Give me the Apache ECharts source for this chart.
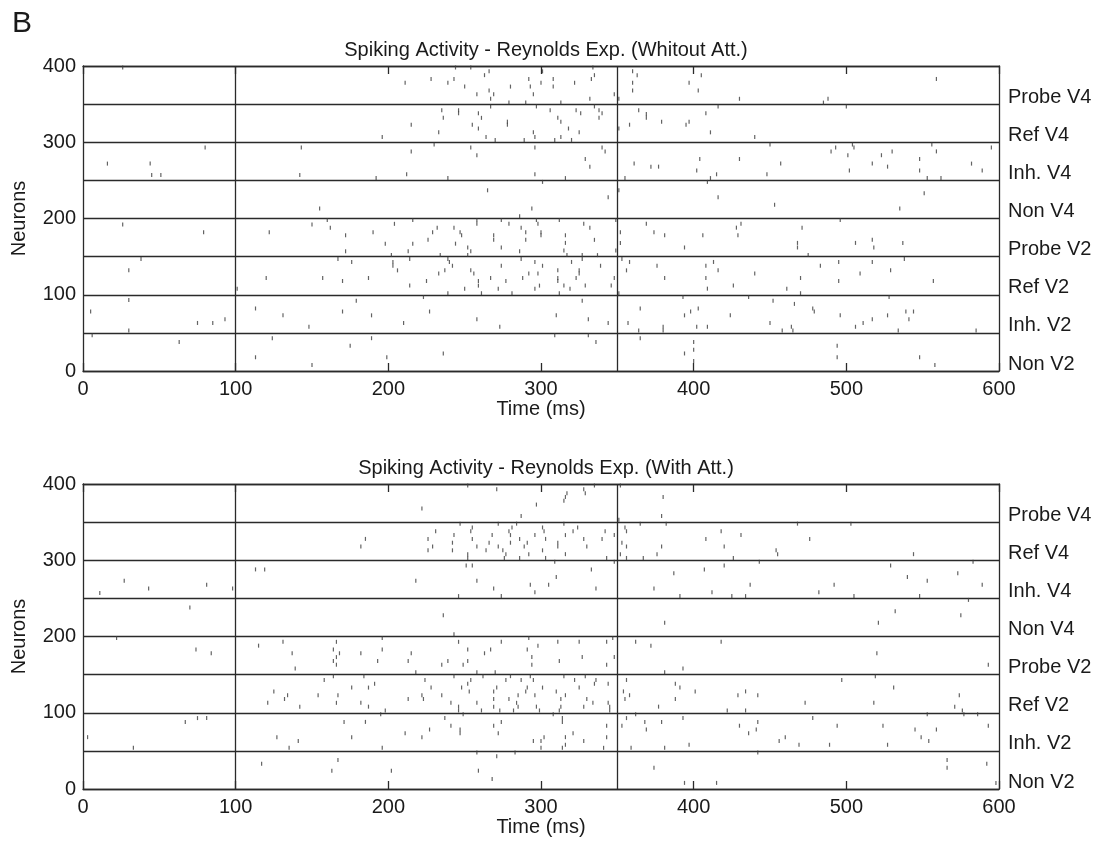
<!DOCTYPE html>
<html>
<head>
<meta charset="utf-8">
<script src="https://cdn.jsdelivr.net/npm/echarts@6/dist/echarts.min.js"></script>
<style>
  html, body { margin: 0; padding: 0; background: #fff; }
  #chart { width: 1101px; height: 843px; }
</style>
</head>
<body>
<div id="chart"></div>
<script>
// population labels, bottom to top (50 neurons each)
const populations = ['Non V2', 'Inh. V2', 'Ref V2', 'Probe V2', 'Non V4', 'Inh. V4', 'Ref V4', 'Probe V4']
// stimulus onset / attention marker (ms)
const stimLines = [100, 350]
const panelTitles = [
  'Spiking Activity - Reynolds Exp. (Whitout Att.)',
  'Spiking Activity - Reynolds Exp. (With Att.)'
]

// [time (ms), neuron index]
const spikesNoAtt = [
  [26,398],[80,293],[143,293],[16,272],[44,272],[45,257],[51,257],[142,257],[26,192],[79,182],[122,182],[150,192],[38,147],[30,132],[120,122],[101,108],[30,93],[5,78],[113,82],[131,73],[75,63],[85,63],[93,68],[148,58],[30,53],[6,47],[63,38],[124,43],[113,18],[150,8],
  [244,398],[254,398],[266,393],[263,388],[301,393],[211,378],[228,383],[239,378],[243,383],[250,373],[292,383],[280,373],[293,373],[300,378],[258,363],[266,368],[269,363],[267,357],[295,363],[279,352],[290,352],
  [267,347],[297,347],[235,342],[246,342],[246,338],[259,338],[236,332],[261,332],[278,327],[278,323],[215,323],[255,323],[259,318],[233,313],[295,313],[196,307],[264,307],[296,307],[270,303],[289,303],
  [230,297],[215,288],[254,293],[258,283],[296,293],[212,258],[192,253],[239,253],[296,258],
  [301,248],[265,237],[155,213],[294,213],[286,203],
  [160,198],[162,188],[204,193],[216,198],[172,178],[190,182],[232,188],[229,182],[226,172],[243,188],[247,182],[248,178],[258,198],[258,193],[269,178],[269,172],[274,198],[279,193],[287,188],[290,182],[297,198],[298,193],[300,182],[300,178],[290,172],[198,167],[216,167],[244,167],[252,162],[254,157],[274,162],[172,157],[213,157],[286,157],[202,152],[234,152],[252,152],
  [167,147],[214,147],[239,147],[287,147],[176,143],[203,143],[203,138],[240,143],[242,138],[296,143],[301,138],[274,138],[206,132],[237,132],[254,132],[233,128],[256,128],[292,128],[298,128],[157,122],[187,122],[267,122],[288,122],[170,118],[225,118],[259,118],[259,112],[277,118],[214,112],[299,112],[250,108],[272,108],[296,108],[239,102],[261,102],[281,102],
  [223,97],[179,92],[170,78],[189,73],[227,78],[210,63],[258,68],[273,58],
  [189,43],[175,33],[236,23],[199,18],
  [334,398],[335,388],[333,383],[308,383],[308,373],[322,378],[332,357],[348,363],[351,357],[360,393],[363,388],[360,378],[360,368],[405,388],[397,378],[403,368],[430,357],[313,352],
  [306,342],[323,342],[326,338],[335,347],[338,342],[340,338],[338,332],[311,332],[313,327],[318,318],[325,313],[313,307],[309,303],[320,303],[351,318],[364,342],[369,337],[369,332],[358,323],[379,327],[397,327],[395,323],[408,338],[416,347],[411,313],[440,307],
  [340,293],[342,288],[329,278],[332,268],[316,253],[361,272],[372,268],[377,268],[404,278],[430,278],[402,263],[415,258],[411,253],[409,248],[448,258],[450,297],[355,253],
  [351,237],[344,228],[416,228],[453,218],
  [312,198],[328,193],[332,188],[316,178],[316,168],[335,172],[315,158],[317,152],[327,152],[337,152],[349,158],[349,198],[352,182],[352,168],[369,193],[374,182],[381,178],[394,162],[406,178],[431,193],[428,188],[429,178],
  [311,132],[320,143],[327,147],[325,132],[325,128],[339,138],[311,122],[311,118],[323,122],[315,112],[319,108],[329,112],[312,102],[346,112],[348,122],[351,102],[353,147],[358,143],[356,132],[376,138],[381,122],[408,138],[413,143],[416,132],[408,122],[409,108],[426,112],[440,128],
  [327,92],[310,73],[331,68],[344,63],[357,63],[364,53],[380,58],[380,53],[365,82],[393,97],[398,78],[394,73],[403,82],[402,58],[409,58],[424,73],[436,97],[450,63],[452,92],
  [309,47],[331,47],[336,38],[365,43],[400,38],[400,28],[394,23],[400,13],
  [559,383],[485,352],[488,357],[500,347],
  [490,288],[493,293],[504,297],[505,293],[501,283],[457,272],[502,263],[517,272],[523,283],[530,288],[527,268],[556,297],[559,288],[548,278],[548,263],[553,253],[562,253],[582,272],[589,263],[595,293],
  [551,233],[535,213],
  [496,198],[471,188],[468,168],[468,162],[475,152],[506,168],[517,172],[518,162],[537,168],
  [538,147],[483,138],[495,143],[517,143],[529,132],[509,128],[470,122],[495,118],[557,118],[461,108],[470,102],
  [528,97],[466,88],[478,82],[479,78],[496,73],[527,73],[539,78],[544,78],[541,68],[517,68],[511,63],[506,58],[464,58],[465,53],[458,53],[534,53],[585,53],
  [494,33],[494,18],[548,18],[558,8]
]

const spikesAtt = [
  [113,288],[119,288],[27,273],[11,257],[43,263],[81,268],[98,263],[70,238],[22,198],[74,183],[84,178],[115,188],[131,193],[137,178],[139,158],[125,128],[134,123],[132,118],[121,113],[142,108],[67,88],[75,93],[81,93],[3,68],[33,54],[127,68],[141,63],[135,54],[117,33],
  [252,398],[271,393],[297,373],[222,368],[287,358],
  [247,348],[255,343],[254,338],[272,348],[284,348],[281,343],[279,338],[301,343],[302,338],[231,338],[185,328],[182,318],[226,328],[229,318],[226,313],[243,333],[242,323],[242,313],[255,328],[258,318],[268,333],[266,323],[264,313],[272,318],[275,313],[280,333],[280,323],[286,328],[291,323],[289,318],[296,333],[277,308],[292,308],[301,313],[252,308],[252,303],[276,303],[286,303],
  [251,293],[255,293],[218,273],[258,273],[269,263],[293,268],[296,258],[246,253],[274,253],
  [236,228],[243,203],
  [166,193],[196,198],[164,183],[168,178],[166,173],[164,168],[166,163],[182,178],[196,183],[193,168],[215,178],[213,168],[246,193],[252,183],[252,168],[249,163],[239,168],[235,163],[263,178],[267,183],[274,193],[292,198],[298,188],[291,183],[294,173],[294,163],[218,153],[258,153],[270,153],
  [158,143],[164,148],[184,148],[176,133],[187,133],[191,138],[154,123],[167,123],[166,113],[182,113],[187,108],[198,103],[195,98],[213,118],[222,123],[223,118],[224,143],[228,133],[235,123],[243,148],[248,133],[252,138],[254,143],[253,128],[262,148],[269,128],[271,133],[269,118],[277,143],[280,148],[287,143],[293,148],[295,143],[291,133],[290,128],[301,133],[279,118],[285,123],[284,113],[285,108],[296,123],[241,113],[246,108],[246,103],[258,113],[269,108],[261,103],[273,103],[282,103],[297,108],[299,103],
  [249,98],[171,88],[185,88],[176,68],[237,93],[241,83],[247,78],[247,73],[227,78],[211,73],[222,68],[269,83],[274,88],[272,73],[295,63],[300,63],[302,68],[196,54],[300,54],
  [258,48],[283,48],[271,43],[167,38],[163,24],[202,24],[259,24],[268,13],
  [335,398],[317,388],[316,383],[315,378],[328,393],[329,388],[352,398],[380,383],[379,358],[351,353],
  [315,348],[324,343],[321,338],[303,328],[316,333],[311,323],[311,318],[328,328],[330,318],[316,308],[303,303],[340,328],[342,338],[348,333],[343,303],[355,343],[356,338],[353,323],[356,318],[352,308],[356,303],[365,348],[382,348],[379,318],[376,308],[367,303],[408,328],[418,338],[431,333],[420,318],[426,303],
  [309,298],[333,288],[310,278],[305,268],[336,263],[348,298],[374,263],[387,283],[391,253],[407,288],[420,293],[412,258],[425,253],[434,253],[437,268],[443,298],
  [381,218],
  [311,193],[325,193],[343,193],[347,198],[312,168],[327,173],[348,173],[343,163],[362,193],[372,188],[418,193],[393,158],[381,153],
  [315,148],[329,148],[322,143],[336,143],[335,138],[325,133],[344,138],[310,128],[316,123],[313,118],[330,118],[334,113],[328,108],[313,108],[312,103],[344,113],[345,108],[345,103],[356,143],[354,128],[358,123],[355,118],[377,108],[388,138],[391,133],[388,118],[401,128],[422,103],[429,123],[434,128],[434,103],[442,123],
  [308,98],[314,93],[314,88],[343,83],[321,73],[343,68],[316,68],[328,63],[316,58],[314,54],[341,54],[356,93],[362,98],[353,83],[368,88],[369,78],[379,88],[393,93],[359,54],[381,54],[397,58],[430,83],[442,88],[441,78],[436,73],
  [442,48],[374,28],[394,8],[415,8],
  [468,348],[503,348],[476,328],[454,313],[455,308],[544,308],
  [529,293],[583,298],[573,283],[540,278],[553,273],[492,268],[589,268],[482,258],[505,253],[548,253],
  [580,248],[532,233],[575,228],[521,218],
  [520,178],[593,163],
  [497,143],[519,148],[531,133],[574,123],[473,113],[518,113],[571,108],[576,103],[577,98],[553,98],[586,98],
  [478,93],[494,83],[524,83],[545,78],[559,78],[549,68],[554,63],[593,83],[456,63],[460,68],[469,58],[489,58],[527,58],
  [566,38],[566,28],[592,33],[598,8]
]

const FONT = "'Liberation Sans', Arial, Helvetica, sans-serif"
const INK = '#1a1a1a'
const LINE = { color: '#2a2a2a', width: 1.3 }
const panelTops = [66, 484]

let grids = []
let xAxes = []
let yAxes = []
let series = []
let titles = [{
  text: 'B',
  left: 7,
  top: 4,
  textStyle: { fontFamily: FONT, fontSize: 30, fontWeight: 'normal', color: INK }
}]

panelTops.forEach((top, i) => {
  grids.push({ left: 83, top: top, width: 916, height: 305 })
  titles.push({
    text: panelTitles[i],
    left: 541,
    top: top - 31,
    textAlign: 'center',
    textStyle: { fontFamily: FONT, fontSize: 20, fontWeight: 'normal', color: INK }
  })
  // bottom axis with labels
  xAxes.push({
    gridIndex: i,
    type: 'value',
    min: 0,
    max: 600,
    interval: 100,
    position: 'bottom',
    axisLine: { show: true, onZero: false, lineStyle: LINE },
    axisTick: { show: true, inside: true, length: 8, lineStyle: LINE },
    axisLabel: { margin: 8, fontSize: 20, color: INK, fontFamily: FONT },
    splitLine: { show: false },
    name: 'Time (ms)',
    nameLocation: 'middle',
    nameGap: 28,
    nameTextStyle: { fontSize: 20, color: INK, fontFamily: FONT }
  })
  // top mirror axis (frame + ticks)
  xAxes.push({
    gridIndex: i,
    type: 'value',
    min: 0,
    max: 600,
    interval: 100,
    position: 'top',
    axisLine: { show: true, onZero: false, lineStyle: LINE },
    axisTick: { show: true, inside: true, length: 8, lineStyle: LINE },
    axisLabel: { show: false },
    splitLine: { show: false }
  })
  yAxes.push({
    gridIndex: i,
    type: 'value',
    min: 0,
    max: 400,
    interval: 50,
    position: 'left',
    axisLine: { show: true, onZero: false, lineStyle: LINE },
    axisTick: { show: false },
    axisLabel: {
      margin: 7,
      fontSize: 20,
      color: INK,
      fontFamily: FONT,
      formatter: v => (v % 100 === 0 ? String(v) : '')
    },
    splitLine: { show: true, lineStyle: LINE },
    name: 'Neurons',
    nameLocation: 'middle',
    nameGap: 54,
    nameTextStyle: { fontSize: 20, color: INK, fontFamily: FONT }
  })
  yAxes.push({
    gridIndex: i,
    type: 'value',
    min: 0,
    max: 400,
    interval: 50,
    position: 'right',
    axisLine: { show: true, onZero: false, lineStyle: LINE },
    axisTick: { show: false },
    axisLabel: {
      margin: 9,
      fontSize: 20,
      color: INK,
      fontFamily: FONT,
      align: 'left',
      verticalAlign: 'bottom',
      lineHeight: 14,
      formatter: v => populations[v / 50] || ''
    },
    splitLine: { show: false }
  })
  series.push({
    type: 'scatter',
    xAxisIndex: i * 2,
    yAxisIndex: i * 2,
    data: i === 0 ? spikesNoAtt : spikesAtt,
    symbol: 'rect',
    symbolSize: [1.2, 4],
    itemStyle: { color: '#3c3c3c' },
    silent: true,
    markLine: {
      silent: true,
      symbol: 'none',
      label: { show: false },
      lineStyle: { color: LINE.color, width: LINE.width, type: 'solid' },
      data: stimLines.map(v => ({ xAxis: v }))
    }
  })
})

const chart = echarts.init(document.getElementById('chart'))
chart.setOption({
  animation: false,
  backgroundColor: '#fff',
  title: titles,
  grid: grids,
  xAxis: xAxes,
  yAxis: yAxes,
  series: series
})
window.addEventListener('resize', () => chart.resize())
</script>
</body>
</html>
